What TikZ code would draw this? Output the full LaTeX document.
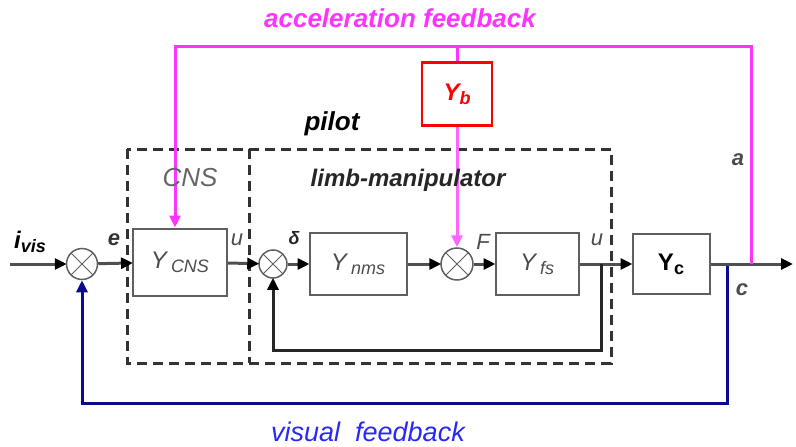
\documentclass[tikz,border=0pt]{standalone}
\usepackage{fontspec}
\setmainfont{Liberation Sans}
\usetikzlibrary{arrows.meta}

\definecolor{accel}{RGB}{255,51,255}
\definecolor{visline}{RGB}{10,10,140}
\definecolor{vistext}{RGB}{40,40,250}
\definecolor{wire}{RGB}{80,80,80}
\definecolor{boxline}{RGB}{95,95,95}

\newcommand\lowtext[1]{\raisebox{-0.3ex}{\fontsize{18}{18}\selectfont #1}}

\tikzset{
  blk/.style={draw=boxline, line width=2pt, inner sep=0pt},
  sumjn/.style={draw=boxline, line width=1.5pt, circle, minimum size=#1, inner sep=0pt,
    path picture={
      \draw[boxline, line width=1pt] (path picture bounding box.north west) -- (path picture bounding box.south east);
      \draw[boxline, line width=1pt] (path picture bounding box.south west) -- (path picture bounding box.north east);}},
  sig/.style={draw=wire, line width=3pt, -{Triangle[length=12pt,width=11pt,color=black]}, shorten >=-1pt},
  accline/.style={draw=accel, line width=3pt},
  visl/.style={draw=visline, line width=3pt},
  dashbox/.style={draw=black!80, line width=3pt, dash pattern=on 10pt off 6pt}
}

\begin{document}
\begin{tikzpicture}[x=1pt,y=-1pt, font=\fontsize{24}{28}\selectfont]
\path[use as bounding box] (0,0) rectangle (796,447);

% pilot and its two parts
\draw[dashbox] (127,149) rectangle (611,363);
\draw[dashbox] (249,149) -- (249,363);

% blocks
\node[blk, minimum width=94pt, minimum height=67pt] (ycns) at (180,262) {\color{black!70}\itshape Y\,\lowtext{CNS}};
\node[blk, minimum width=97pt, minimum height=62pt] (ynms) at (358,264) {\color{black!70}\itshape Y\,\lowtext{nms}};
\node[blk, minimum width=83pt, minimum height=62pt] (yfs) at (537,264) {\color{black!70}\itshape Y\,\lowtext{fs}};
\node[blk, minimum width=77pt, minimum height=60pt] (yc) at (671,264) {\bfseries Y\lowtext{\bfseries c}};
\node[draw=red, line width=2.5pt, minimum width=70pt, minimum height=63pt] (yb) at (457,94) {\color{red}\bfseries\itshape Y\lowtext{\bfseries\itshape b}};

% summing points
\node[sumjn=31pt] (sum1) at (82,264) {};
\node[sumjn=28pt] (sum2) at (273,264) {};
\node[sumjn=32pt] (sum3) at (457,264) {};

\coordinate (in) at (10,264);
\coordinate (out) at (792,264);
\coordinate (tap1) at (601,264);
\coordinate (loop) at (601,350);
\coordinate (ctap) at (727,266);
\coordinate (vcorner) at (727,403);
\coordinate (atap) at (751,264);
\coordinate (atop) at (751,46);
\coordinate (acorner) at (175,46);

% forward path
\path[sig] (in) -- (sum1);
\path[sig] (sum1) -- (ycns);
\path[sig] (ycns) -- (sum2);
\path[sig] (sum2) -- (ynms);
\path[sig] (ynms) -- (sum3);
\path[sig] (sum3) -- (yfs);
\path[sig] (yfs) -- (yc);
\path[sig] (yc) -- (out);

% inner loop of the limb
\path[sig, draw=black!85] (tap1) -- (loop) -| (sum2);

% visual feedback
\path[visl, -{Triangle[length=12pt,width=11pt]}] (ctap) -- (vcorner) -| (sum1);

% acceleration feedback
\path[accline, -{Triangle[length=12pt,width=11pt]}] (atap) -- (atop) -- (acorner) -- (acorner |- ycns.north);
\path[accline] (atop -| yb) -- (yb);
\path[accline, draw=accel!75, -{Triangle[length=12pt,width=11pt]}] (yb) -- (sum3);

% labels
\node[accel, font=\fontsize{26}{28}\selectfont\bfseries\itshape] (acclabel) at (400,18) {acceleration feedback};
\node[vistext, font=\fontsize{27}{28}\selectfont\itshape] (vislabel) at (368,432) {visual\ \ feedback};
\node[font=\fontsize{26}{28}\selectfont\bfseries\itshape] (pilot) at (332,124) {pilot};
\node[black!60, font=\fontsize{26}{28}\selectfont\itshape] (cns) at (190,178) {CNS};
\node[black!85, font=\fontsize{24}{28}\selectfont\bfseries\itshape] (limb) at (408,180) {limb-manipulator};

\node[font=\fontsize{24}{28}\selectfont\bfseries\itshape] (ivis) at (30,242) {i\lowtext{vis}};
\node[black!80, font=\fontsize{22}{28}\selectfont\bfseries\itshape] (elab) at (114,240) {e};
\node[black!70, font=\fontsize{22}{28}\selectfont\itshape] (ulab1) at (237,240) {u};
\node[black!85, font=\fontsize{18}{28}\selectfont\bfseries\itshape] (dlab) at (294,238) {δ};
\node[black!70, font=\fontsize{22}{28}\selectfont\itshape] (flab) at (483,242) {F};
\node[black!70, font=\fontsize{22}{28}\selectfont\itshape] (ulab2) at (597,240) {u};
\node[black!70, font=\fontsize{22}{28}\selectfont\bfseries\itshape] (alab) at (738,160) {a};
\node[black!70, font=\fontsize{22}{28}\selectfont\bfseries\itshape] (clab) at (742,290) {c};
\end{tikzpicture}
\end{document}
